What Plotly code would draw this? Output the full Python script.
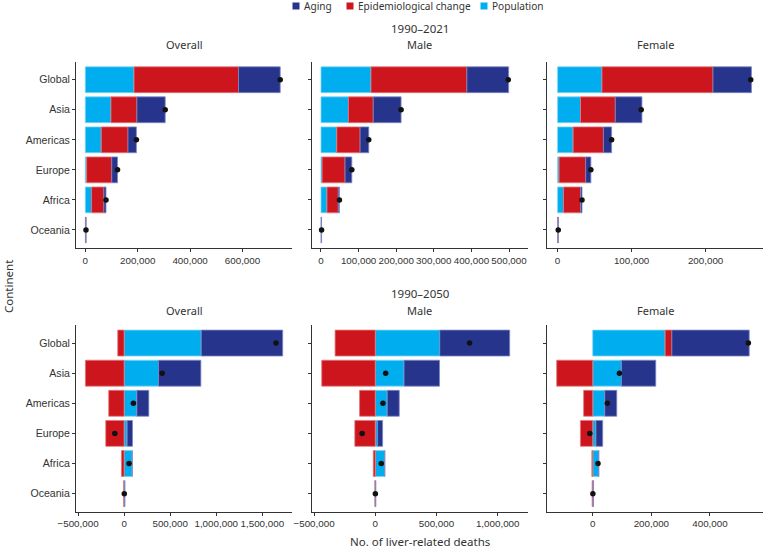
import plotly.graph_objects as go

# ---------------- data ----------------
continents = ["Global", "Asia", "Americas", "Europe", "Africa", "Oceania"]

# 1990-2021
overall_2021_population = [186000, 98000, 61000, 5000, 24000, 1500]
overall_2021_epi = [399000, 99000, 102000, 96000, 47000, 600]
overall_2021_aging = [159000, 108000, 32000, 22000, 8000, 500]
overall_2021_total = [744000, 305000, 195000, 123000, 79000, 2600]

male_2021_population = [133000, 73000, 42000, 3000, 16000, 800]
male_2021_epi = [255000, 66000, 62000, 61000, 30000, 400]
male_2021_aging = [111000, 74000, 23000, 18000, 3000, 400]
male_2021_total = [498000, 213000, 127000, 82000, 49000, 1600]

female_2021_population = [60000, 31000, 21000, 2000, 8000, 300]
female_2021_epi = [150000, 47000, 41000, 36000, 23000, 400]
female_2021_aging = [52000, 36000, 11000, 7000, 2000, 200]
female_2021_total = [261000, 113000, 73000, 45000, 33000, 900]

# 1990-2050
overall_2050_population = [837000, 373000, 138000, 33000, 87000, 6000]
overall_2050_epi = [-69000, -420000, -167000, -199000, -29000, -5000]
overall_2050_aging = [884000, 460000, 130000, 58000, 1000, 2000]
overall_2050_total = [1648000, 413000, 101000, -101000, 54000, 2000]

male_2050_population = [527000, 235000, 98000, 19000, 77000, 3000]
male_2050_epi = [-328000, -437000, -128000, -167000, -16000, -3000]
male_2050_aging = [571000, 290000, 98000, 41000, 1000, 1000]
male_2050_total = [770000, 85000, 63000, -107000, 49000, 1000]

female_2050_population = [247000, 98000, 41000, 11000, 20000, 2000]
female_2050_epi = [23000, -123000, -31000, -42000, -3000, -2000]
female_2050_aging = [264000, 117000, 41000, 23000, 1000, 500]
female_2050_total = [531000, 91000, 50000, -10000, 18000, 500]

period_titles = ["1990\u20132021", "1990\u20132050"]
sex_titles = ["Overall", "Male", "Female"]
legend_labels = ["Aging", "Epidemiological change", "Population"]

tick_values = [
    [0, 200000, 400000, 600000],
    [0, 100000, 200000, 300000, 400000, 500000],
    [0, 100000, 200000],
    [-500000, 0, 500000, 1000000, 1500000],
    [-500000, 0, 500000, 1000000],
    [0, 200000, 400000],
]

panels = [
    (overall_2021_population, overall_2021_epi, overall_2021_aging, overall_2021_total),
    (male_2021_population, male_2021_epi, male_2021_aging, male_2021_total),
    (female_2021_population, female_2021_epi, female_2021_aging, female_2021_total),
    (overall_2050_population, overall_2050_epi, overall_2050_aging, overall_2050_total),
    (male_2050_population, male_2050_epi, male_2050_aging, male_2050_total),
    (female_2050_population, female_2050_epi, female_2050_aging, female_2050_total),
]

# ---------------- style ----------------
W, H = 765, 551


def fx(px):
    return px / W


def fy(py):
    return 1 - py / H


COL_AGING = "#27348B"
COL_EPI = "#CC151C"
COL_POP = "#00AEEF"
EDGE_AGING = "#7E86C4"
EDGE_EPI = "#E5767A"
EDGE_POP = "#7FD4F5"
TEXT = "#333333"
XTICK_FONT = dict(family="Liberation Sans, Arial, sans-serif", size=9.8, color=TEXT)
YTICK_FONT = dict(family="Liberation Sans, Arial, sans-serif", size=10.6, color=TEXT)
TITLE_FAMILY = "Noto Sans, sans-serif"

col_px = [(76, 292), (311.7, 527.7), (547.3, 763.3)]
row_px = [(61.7, 248), (325, 511.7)]
col_domains = [[fx(a), fx(b)] for a, b in col_px]
row_domains = [[fy(b), fy(a)] for a, b in row_px]
x_ranges = [
    [-35500, 789000], [-24700, 549700], [-13900, 278000],
    [-522000, 1822000], [-519000, 1245000], [-155000, 582000],
]

fig = go.Figure()
layout = {}

for i, (pop, epi, aging, total) in enumerate(panels):
    r, c = divmod(i, 3)
    xa = "x" if i == 0 else f"x{i+1}"
    ya = "y" if i == 0 else f"y{i+1}"
    for name, vals, col, edge in [
        ("Population", pop, COL_POP, EDGE_POP),
        ("Epidemiological change", epi, COL_EPI, EDGE_EPI),
        ("Aging", aging, COL_AGING, EDGE_AGING),
    ]:
        fig.add_trace(go.Bar(
            x=vals, y=continents, orientation="h", name=name,
            marker=dict(color=col, line=dict(color=edge, width=0.8)),
            width=0.86, xaxis=xa, yaxis=ya, legendgroup=name,
            showlegend=False,
        ))
    fig.add_trace(go.Scatter(
        x=total, y=continents, mode="markers", name="Total change",
        marker=dict(color="#111111", size=5.5),
        xaxis=xa, yaxis=ya, showlegend=False, hoverinfo="x+y",
    ))
    xkey = "xaxis" if i == 0 else f"xaxis{i+1}"
    ykey = "yaxis" if i == 0 else f"yaxis{i+1}"
    layout[xkey] = dict(
        domain=col_domains[c], anchor=ya, range=x_ranges[i],
        tickvals=tick_values[i], tickformat=",d", tickangle=0,
        showgrid=False, zeroline=False, showline=True, linecolor=TEXT,
        linewidth=1, ticks="outside", ticklen=3, tickcolor=TEXT,
        tickfont=XTICK_FONT, automargin=False,
    )
    layout[ykey] = dict(
        domain=row_domains[r], anchor=xa, type="category",
        categoryorder="array", categoryarray=continents[::-1],
        range=[-0.6, 5.6], showgrid=False, zeroline=False,
        showline=True, linecolor=TEXT, linewidth=1, ticks="outside",
        ticklen=3, tickcolor=TEXT, tickfont=YTICK_FONT,
        showticklabels=(c == 0), automargin=False,
    )

annotations = []
shapes = []
# legend (keys drawn as small squares + labels)
legend_colors = [COL_AGING, COL_EPI, COL_POP]
legend_key_x = [296, 350, 484]
for lab, col, kx in zip(legend_labels, legend_colors, legend_key_x):
    shapes.append(dict(type="rect", xref="paper", yref="paper",
                       x0=fx(kx - 3.5), x1=fx(kx + 3.5),
                       y0=fy(9.5), y1=fy(2.5),
                       fillcolor=col, line=dict(width=0)))
    annotations.append(dict(text=lab, x=fx(kx + 6), y=fy(6), xref="paper", yref="paper",
                            showarrow=False, xanchor="left", yanchor="middle",
                            font=dict(family=TITLE_FAMILY, size=10.1, color=TEXT)))

# period titles and facet labels
for r, t in enumerate(period_titles):
    yy = [28, 293][r]
    annotations.append(dict(text=t, x=fx(420), y=fy(yy), xref="paper", yref="paper",
                            showarrow=False, xanchor="center", yanchor="middle",
                            font=dict(family=TITLE_FAMILY, size=11.5, color=TEXT)))
    for c, s in enumerate(sex_titles):
        sy = [45, 310.7][r]
        annotations.append(dict(text=s, x=fx(sum(col_px[c]) / 2), y=fy(sy),
                                xref="paper", yref="paper", showarrow=False,
                                xanchor="center", yanchor="middle",
                                font=dict(family=TITLE_FAMILY, size=11, color=TEXT)))
annotations.append(dict(text="No. of liver-related deaths", x=fx(420), y=fy(541),
                        xref="paper", yref="paper", showarrow=False,
                        xanchor="center", yanchor="middle",
                        font=dict(family=TITLE_FAMILY, size=11.5, color=TEXT)))
annotations.append(dict(text="Continent", x=fx(8), y=fy(287), xref="paper", yref="paper",
                        showarrow=False, xanchor="center", yanchor="middle", textangle=-90,
                        font=dict(family=TITLE_FAMILY, size=11.5, color=TEXT)))

fig.update_layout(
    width=W, height=H, margin=dict(l=0, r=0, t=0, b=0, autoexpand=False),
    paper_bgcolor="white", plot_bgcolor="white",
    barmode="relative", bargap=0.1,
    showlegend=False,
    annotations=annotations,
    shapes=shapes,
    **layout,
)

fig.write_html("out.html",
               config={"displayModeBar": False},
               post_script="document.body.style.margin='0px';document.body.style.padding='0px';")
